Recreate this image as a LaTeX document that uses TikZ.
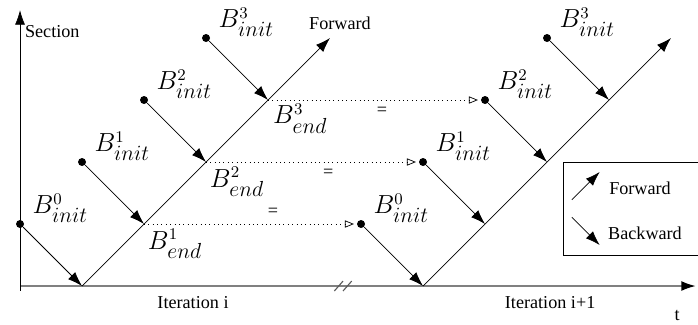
\documentclass[tikz,border=0pt]{standalone}
\usepackage{amsmath, amssymb}
\usepackage[no-math]{fontspec}
\setmainfont{Liberation Serif}
\usepackage{tikz}
\usetikzlibrary{arrows.meta}
\newcommand{\blab}[2]{$B^{#1}_{\mbox{\fontsize{12.5}{14}\selectfont$#2$}}$}

\begin{document}
\begin{tikzpicture}[x=1.2cm,y=1.2cm,
  dot/.style={circle,fill,inner sep=0pt,minimum size=4.4pt},
  arr/.style={-{Latex[length=8pt,width=5.5pt]}},
  copyarr/.style={dotted,-{Triangle[open,length=5pt,width=4pt]},shorten >=1.5pt},
  lbl/.style={font=\fontsize{13.5}{15}\selectfont,inner sep=0pt}]
\useasboundingbox (-0.323,-0.613) rectangle (10.935,4.613);
% axes
\coordinate (o) at (0,0);
\coordinate (xend) at (10.9,0);
\draw[gray,line width=1pt,-{Latex[length=8pt,width=5.5pt,color=black]}] (o) -- (xend);
\draw[arr] (0,-0.08) -- (0,4.45);
\draw[gray!70!black,line width=0.6pt] (5.07,-0.08) -- (5.21,0.08);
\draw[gray!70!black,line width=0.6pt] (5.21,-0.08) -- (5.35,0.08);
\node (sec) at (0.52,4.1) {Section};
\node (iti) at (2.79,-0.27) {Iteration i};
\node (itj) at (8.55,-0.27) {Iteration i+1};
\node (t) at (10.6,-0.48) {t};
% iteration i
\coordinate (p0) at (1,0);
\coordinate (p1) at (2,1);
\coordinate (p2) at (3,2);
\coordinate (p3) at (4,3);
\coordinate (ptop) at (5,4);
\draw[arr] (p0) -- (ptop);
\node (fw) at (5.16,4.23) {Forward};
\node[dot] (a0) at (0,1) {};
\node[dot] (a1) at (1,2) {};
\node[dot] (a2) at (2,3) {};
\node[dot] (a3) at (3,4) {};
\draw[arr] (a0) -- (p0);
\draw[arr] (a1) -- (p1);
\draw[arr] (a2) -- (p2);
\draw[arr] (a3) -- (p3);
\node[lbl] (la0) at (0.65,1.26) {\blab{0}{init}};
\node[lbl] (la1) at (1.65,2.26) {\blab{1}{init}};
\node[lbl] (la2) at (2.65,3.26) {\blab{2}{init}};
\node[lbl] (la3) at (3.65,4.26) {\blab{3}{init}};
\node[lbl] (le1) at (2.5,0.68) {\blab{1}{end}};
\node[lbl] (le2) at (3.5,1.68) {\blab{2}{end}};
\node[lbl] (le3) at (4.52,2.7) {\blab{3}{end}};
% iteration i+1
\coordinate (q0) at (6.5,0);
\coordinate (q1) at (7.5,1);
\coordinate (q2) at (8.5,2);
\coordinate (q3) at (9.5,3);
\coordinate (qtop) at (10.5,4);
\draw[arr] (q0) -- (qtop);
\node[dot] (c0) at (5.5,1) {};
\node[dot] (c1) at (6.5,2) {};
\node[dot] (c2) at (7.5,3) {};
\node[dot] (c3) at (8.5,4) {};
\draw[arr] (c0) -- (q0);
\draw[arr] (c1) -- (q1);
\draw[arr] (c2) -- (q2);
\draw[arr] (c3) -- (q3);
\node[lbl] (lc0) at (6.15,1.26) {\blab{0}{init}};
\node[lbl] (lc1) at (7.15,2.26) {\blab{1}{init}};
\node[lbl] (lc2) at (8.15,3.26) {\blab{2}{init}};
\node[lbl] (lc3) at (9.15,4.26) {\blab{3}{init}};
% end of i = init of i+1
\draw[copyarr] (p1) -- (c0);
\draw[copyarr] (p2) -- (c1);
\draw[copyarr] (p3) -- (c2);
\node (eq1) at (4.08,1.19) {=};
\node (eq2) at (4.97,1.82) {=};
\node (eq3) at (5.84,2.81) {=};
% legend
\draw (8.76,0.5) rectangle (11,2.0);
\coordinate (f1) at (8.9,1.39);
\coordinate (f2) at (9.35,1.84);
\coordinate (b1) at (8.9,1.11);
\coordinate (b2) at (9.35,0.66);
\draw[arr] (f1) -- (f2);
\draw[arr] (b1) -- (b2);
\node (lf) at (10.0,1.58) {Forward};
\node (lb) at (10.08,0.85) {Backward};
\end{tikzpicture}
\end{document}
